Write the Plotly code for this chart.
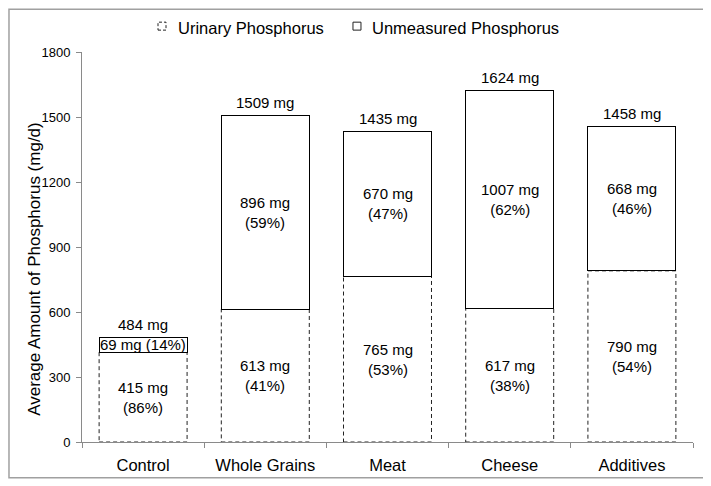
import plotly.graph_objects as go

# -----------------------------
# DATA
# -----------------------------
categories = ["Control", "Whole Grains", "Meat", "Cheese", "Additives"]
urinary = [415, 613, 765, 617, 790]
unmeasured = [69, 896, 670, 1007, 668]
y_ticks = [0, 300, 600, 900, 1200, 1500, 1800]

totals = [u + m for u, m in zip(urinary, unmeasured)]

FONT = "Liberation Sans, Arial, sans-serif"
BAR_W = 0.72
AXIS_GRAY = "#8a8a8a"

fig = go.Figure()

# urinary part: transparent bar, dashed outline drawn as shape below
fig.add_trace(go.Bar(
    x=categories, y=urinary, width=BAR_W,
    marker=dict(color="rgba(0,0,0,0)", line=dict(width=0)),
    hoverinfo="skip", showlegend=False
))
# unmeasured part: white box, solid black outline
fig.add_trace(go.Bar(
    x=categories, y=unmeasured, width=BAR_W,
    marker=dict(color="white", line=dict(color="black", width=1)),
    hoverinfo="skip", showlegend=False
))

for i, u in enumerate(urinary):
    fig.add_shape(
        type="rect", xref="x", yref="y",
        x0=i - BAR_W / 2, x1=i + BAR_W / 2, y0=0, y1=u,
        line=dict(color="#222", width=1, dash="4px,3px"),
        fillcolor="rgba(0,0,0,0)", layer="below"
    )

# -----------------------------
# LABELS (centred in each segment)
# -----------------------------
lab_font = dict(family=FONT, size=15, color="black")
for cat, u, m, t in zip(categories, urinary, unmeasured, totals):
    pu = round(100 * u / t)
    pm = round(100 * m / t)
    # total above bar
    fig.add_annotation(x=cat, y=t, text=f"{t} mg", showarrow=False,
                       yanchor="bottom", yshift=2, font=lab_font)
    # urinary label
    fig.add_annotation(x=cat, y=u / 2, text=f"{u} mg<br>({pu}%)",
                       showarrow=False, font=lab_font)
    # unmeasured label
    if m < 150:
        txt = f"{m} mg ({pm}%)"
    else:
        txt = f"{m} mg<br>({pm}%)"
    fig.add_annotation(x=cat, y=u + m / 2, text=txt,
                       showarrow=False, font=lab_font)

# -----------------------------
# LEGEND (manual, dashed icon not possible in plotly legend)
# -----------------------------
fig.add_shape(type="rect", xref="paper", yref="paper",
              x0=0.1244, x1=0.1375, y0=1.0561, y1=1.0765,
              line=dict(color="#222", width=1, dash="3px,2px"))
fig.add_annotation(xref="paper", yref="paper", x=0.1538, y=1.0612,
                   xanchor="left", yanchor="middle", showarrow=False,
                   text="Urinary Phosphorus",
                   font=dict(family=FONT, size=16.5, color="black"))
fig.add_shape(type="rect", xref="paper", yref="paper",
              x0=0.4435, x1=0.4566, y0=1.0561, y1=1.0765,
              line=dict(color="#222", width=1))
fig.add_annotation(xref="paper", yref="paper", x=0.4714, y=1.0612,
                   xanchor="left", yanchor="middle", showarrow=False,
                   text="Unmeasured Phosphorus",
                   font=dict(family=FONT, size=16.5, color="black"))

# y axis title
fig.add_annotation(xref="paper", yref="paper", x=-0.0769, y=0.444,
                   xanchor="center", yanchor="middle",
                   textangle=-90, showarrow=False,
                   text="Average Amount of Phosphorus (mg/d)",
                   font=dict(family=FONT, size=17, color="black"))

# outer frame
fig.add_shape(type="rect", xref="paper", yref="paper",
              x0=-0.1195, x1=1.0229, y0=-0.0918, y1=1.1097,
              line=dict(color="#a0a0a0", width=1.5))

# -----------------------------
# LAYOUT  (page body has an 8px margin, so the figure is shrunk by 8px)
# -----------------------------
fig.update_layout(
    width=703, height=478,
    margin=dict(l=74, r=18, t=44, b=42),
    barmode="stack",
    plot_bgcolor="white", paper_bgcolor="white",
    showlegend=False,
    font=dict(family=FONT, color="black"),
)
fig.update_xaxes(
    type="category", range=[-0.5, 4.5],
    showline=True, linecolor=AXIS_GRAY, linewidth=1,
    ticks="outside", tickson="boundaries", ticklen=5, tickcolor=AXIS_GRAY,
    tickfont=dict(family=FONT, size=16.5, color="black"),
    ticklabelstandoff=8,
    showgrid=False, zeroline=False,
)
fig.update_yaxes(
    range=[0, 1800], tickvals=y_ticks,
    showline=True, linecolor=AXIS_GRAY, linewidth=1,
    ticks="outside", ticklen=5, tickcolor=AXIS_GRAY,
    tickfont=dict(family=FONT, size=13, color="black"),
    ticklabelstandoff=3,
    showgrid=False, zeroline=False,
)

fig.write_html("out.html")
